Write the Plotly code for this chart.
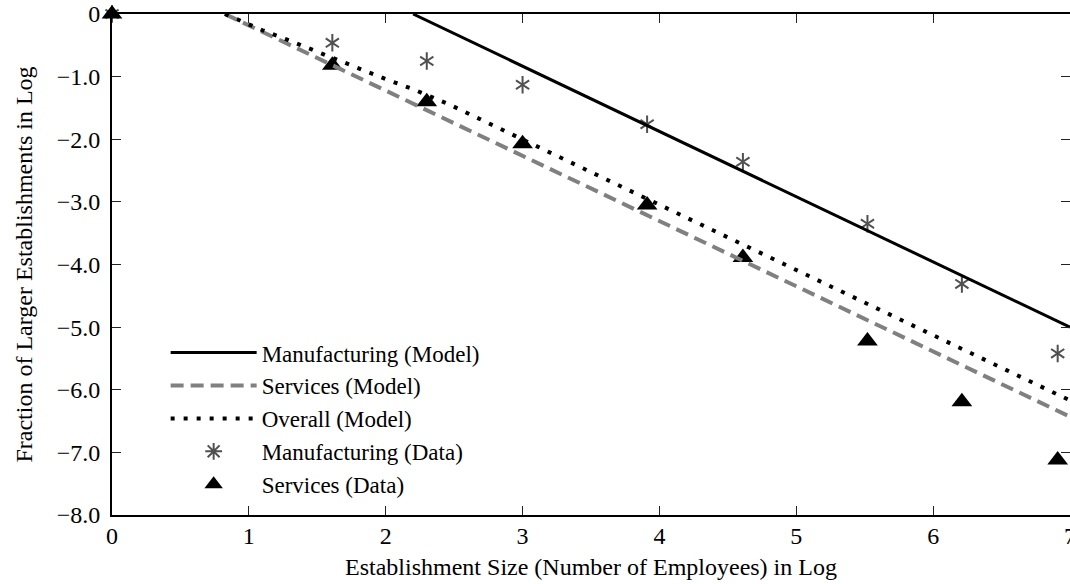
import plotly.graph_objects as go

# ---- data ----
size_data = [0, 1.61, 2.30, 3.00, 3.91, 4.61, 5.52, 6.21, 6.91]
mfg_data = [0, -0.46, -0.75, -1.13, -1.76, -2.36, -3.35, -4.31, -5.42]
svc_data = [0, -0.82, -1.40, -2.07, -3.05, -3.89, -5.22, -6.19, -7.12]

mfg_model_x = [2.20, 7.00]
mfg_model_y = [0.0, -5.00]
svc_model_x = [0.825, 7.00]
svc_model_y = [0.0, -6.43]
all_model_x = [0.825, 0.92, 1.10, 1.28, 1.46, 1.73, 2.00, 2.20, 2.46, 3.85, 7.00]
all_model_y = [0.0, -0.09, -0.26, -0.41, -0.57, -0.81, -1.04, -1.20, -1.44, -2.89, -6.17]

x_ticks = [0, 1, 2, 3, 4, 5, 6, 7]
x_ticktext = ["0", "1", "2", "3", "4", "5", "6", "7"]
y_ticks = [0, -1, -2, -3, -4, -5, -6, -7, -8]
y_ticktext = ["0", "−1.0", "−2.0", "−3.0", "−4.0", "−5.0", "−6.0", "−7.0", "−8.0"]

FONT = "'Liberation Serif', 'DejaVu Serif', serif"
FS = 24
AST_COLOR = "#505050"

fig = go.Figure()

# data markers (drawn first, lines on top)
fig.add_trace(go.Scatter(x=size_data, y=mfg_data, mode="markers", showlegend=False,
                         cliponaxis=False,
                         marker=dict(symbol="y-up-open", size=11, color=AST_COLOR,
                                     line=dict(width=2, color=AST_COLOR))))
fig.add_trace(go.Scatter(x=size_data, y=mfg_data, mode="markers", showlegend=False,
                         cliponaxis=False,
                         marker=dict(symbol="y-down-open", size=11, color=AST_COLOR,
                                     line=dict(width=2, color=AST_COLOR))))
fig.add_trace(go.Scatter(x=[None], y=[None], mode="markers", name="Manufacturing (Data)",
                         legendrank=4,
                         marker=dict(symbol="asterisk-open", size=14, color=AST_COLOR,
                                     line=dict(width=2, color=AST_COLOR))))
fig.add_trace(go.Scatter(x=size_data, y=svc_data, mode="markers", name="Services (Data)",
                         legendrank=5, cliponaxis=False,
                         marker=dict(symbol="triangle-up", size=18, color="black",
                                     line=dict(width=0))))

# model lines
fig.add_trace(go.Scatter(x=mfg_model_x, y=mfg_model_y, mode="lines",
                         name="Manufacturing (Model)", legendrank=1,
                         line=dict(color="black", width=3)))
fig.add_trace(go.Scatter(x=svc_model_x, y=svc_model_y, mode="lines",
                         name="Services (Model)", legendrank=2,
                         line=dict(color="#808080", width=4, dash="13px,7px")))
fig.add_trace(go.Scatter(x=all_model_x, y=all_model_y, mode="lines",
                         name="Overall (Model)", legendrank=3,
                         line=dict(color="black", width=4, dash="4px,9px")))

axis_common = dict(
    ticks="inside", ticklen=9, tickwidth=1, tickcolor="#222",
    showline=True, linewidth=2, linecolor="black", mirror="ticks",
    showgrid=False, zeroline=False, automargin=False,
    ticklabeloverflow="allow",
    tickfont=dict(family=FONT, size=FS, color="black"),
)

fig.update_layout(
    width=1070, height=584,
    margin=dict(l=112, r=0, t=14, b=69),
    paper_bgcolor="white", plot_bgcolor="white",
    font=dict(family=FONT, size=FS, color="black"),
    xaxis=dict(range=[0, 7], tickvals=x_ticks, ticktext=x_ticktext,
               ticklabelstandoff=-2,
               title=dict(text="Establishment Size (Number of Employees) in Log",
                          font=dict(family=FONT, size=FS), standoff=10),
               **axis_common),
    yaxis=dict(range=[-8, 0], tickvals=y_ticks, ticktext=y_ticktext,
               ticklabelstandoff=5,
               title=dict(text="Fraction of Larger Establishments in Log",
                          font=dict(family=FONT, size=FS), standoff=17),
               **axis_common),
    legend=dict(x=0.056, y=0.367, xanchor="left", yanchor="top",
                bgcolor="rgba(0,0,0,0)", borderwidth=0,
                itemwidth=86, tracegroupgap=0,
                font=dict(family=FONT, size=23, color="black")),
)

# remove the default 8px page margin so the figure fills the window exactly
fig.write_html("out.html", config={"displayModeBar": False},
               post_script="document.body.style.margin='0';")
